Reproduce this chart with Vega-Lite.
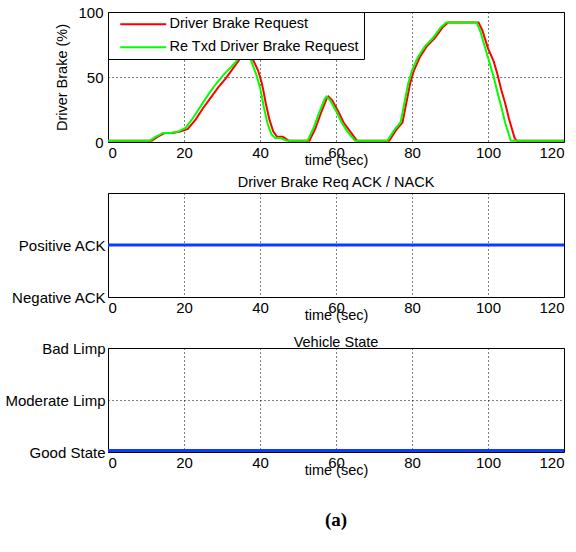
{
  "$schema": "https://vega.github.io/schema/vega-lite/v6.json",
  "padding": {"left": 4, "top": 4, "right": 8, "bottom": 5},
  "spacing": 51,
  "bounds": "flush",
  "background": "white",
  "title": {"text": "(a)", "orient": "bottom", "anchor": "middle", "font": "Liberation Serif", "fontSize": 19, "fontWeight": "bold", "offset": 34, "color": "black"},
  "config": {
    "font": "Liberation Sans",
    "view": {"stroke": "black", "strokeWidth": 1},
    "axis": {"domain": false, "ticks": false, "labelFontSize": 15, "labelColor": "black", "labelFont": "Liberation Sans", "titleFont": "Liberation Sans", "titleFontSize": 14.5, "titleFontWeight": "normal", "titleColor": "black", "gridColor": "black", "gridDash": [1, 3], "gridOpacity": 1, "gridWidth": 1, "labelPadding": 3},
    "title": {"fontSize": 14.5, "fontWeight": "normal", "font": "Liberation Sans", "color": "black", "frame": "group"}
  },
  "datasets": {
    "brake": [
      {"series": "Driver Brake Request", "t": 0, "v": 1},
      {"series": "Driver Brake Request", "t": 11.5, "v": 1},
      {"series": "Driver Brake Request", "t": 13, "v": 4},
      {"series": "Driver Brake Request", "t": 15, "v": 7},
      {"series": "Driver Brake Request", "t": 17, "v": 7},
      {"series": "Driver Brake Request", "t": 19, "v": 8},
      {"series": "Driver Brake Request", "t": 21, "v": 10},
      {"series": "Driver Brake Request", "t": 23, "v": 17},
      {"series": "Driver Brake Request", "t": 25, "v": 26},
      {"series": "Driver Brake Request", "t": 27, "v": 34},
      {"series": "Driver Brake Request", "t": 29, "v": 42},
      {"series": "Driver Brake Request", "t": 31, "v": 49},
      {"series": "Driver Brake Request", "t": 33, "v": 57},
      {"series": "Driver Brake Request", "t": 34.5, "v": 63},
      {"series": "Driver Brake Request", "t": 35.5, "v": 70},
      {"series": "Driver Brake Request", "t": 36.5, "v": 69},
      {"series": "Driver Brake Request", "t": 38.2, "v": 63},
      {"series": "Driver Brake Request", "t": 39.5, "v": 55},
      {"series": "Driver Brake Request", "t": 40.5, "v": 45},
      {"series": "Driver Brake Request", "t": 41, "v": 38},
      {"series": "Driver Brake Request", "t": 41.5, "v": 30},
      {"series": "Driver Brake Request", "t": 42.5, "v": 17},
      {"series": "Driver Brake Request", "t": 43.5, "v": 8},
      {"series": "Driver Brake Request", "t": 44.5, "v": 4},
      {"series": "Driver Brake Request", "t": 46, "v": 4},
      {"series": "Driver Brake Request", "t": 47.5, "v": 1},
      {"series": "Driver Brake Request", "t": 53, "v": 1},
      {"series": "Driver Brake Request", "t": 54.5, "v": 10},
      {"series": "Driver Brake Request", "t": 56, "v": 22},
      {"series": "Driver Brake Request", "t": 57.5, "v": 33},
      {"series": "Driver Brake Request", "t": 58, "v": 35},
      {"series": "Driver Brake Request", "t": 59, "v": 32},
      {"series": "Driver Brake Request", "t": 60.5, "v": 24},
      {"series": "Driver Brake Request", "t": 62, "v": 15},
      {"series": "Driver Brake Request", "t": 63.5, "v": 9},
      {"series": "Driver Brake Request", "t": 65.5, "v": 1},
      {"series": "Driver Brake Request", "t": 74, "v": 1},
      {"series": "Driver Brake Request", "t": 76, "v": 10},
      {"series": "Driver Brake Request", "t": 77.5, "v": 15},
      {"series": "Driver Brake Request", "t": 78.5, "v": 30},
      {"series": "Driver Brake Request", "t": 79.5, "v": 45},
      {"series": "Driver Brake Request", "t": 80.5, "v": 55},
      {"series": "Driver Brake Request", "t": 82, "v": 65},
      {"series": "Driver Brake Request", "t": 84, "v": 74},
      {"series": "Driver Brake Request", "t": 86, "v": 80},
      {"series": "Driver Brake Request", "t": 88, "v": 88},
      {"series": "Driver Brake Request", "t": 89.5, "v": 92},
      {"series": "Driver Brake Request", "t": 97.5, "v": 92},
      {"series": "Driver Brake Request", "t": 98.5, "v": 86},
      {"series": "Driver Brake Request", "t": 100, "v": 72},
      {"series": "Driver Brake Request", "t": 101.5, "v": 62},
      {"series": "Driver Brake Request", "t": 102.5, "v": 52},
      {"series": "Driver Brake Request", "t": 103.5, "v": 40},
      {"series": "Driver Brake Request", "t": 104.5, "v": 30},
      {"series": "Driver Brake Request", "t": 105.5, "v": 18},
      {"series": "Driver Brake Request", "t": 107, "v": 3},
      {"series": "Driver Brake Request", "t": 107.5, "v": 1},
      {"series": "Driver Brake Request", "t": 120, "v": 1},
      {"series": "Re Txd Driver Brake Request", "t": 0, "v": 1},
      {"series": "Re Txd Driver Brake Request", "t": 11, "v": 1},
      {"series": "Re Txd Driver Brake Request", "t": 12.5, "v": 4},
      {"series": "Re Txd Driver Brake Request", "t": 14.5, "v": 7},
      {"series": "Re Txd Driver Brake Request", "t": 16.5, "v": 7},
      {"series": "Re Txd Driver Brake Request", "t": 18.5, "v": 8},
      {"series": "Re Txd Driver Brake Request", "t": 20.5, "v": 11},
      {"series": "Re Txd Driver Brake Request", "t": 22.5, "v": 19},
      {"series": "Re Txd Driver Brake Request", "t": 24.5, "v": 28},
      {"series": "Re Txd Driver Brake Request", "t": 26.5, "v": 37},
      {"series": "Re Txd Driver Brake Request", "t": 28.5, "v": 45},
      {"series": "Re Txd Driver Brake Request", "t": 30.5, "v": 52},
      {"series": "Re Txd Driver Brake Request", "t": 32.5, "v": 58},
      {"series": "Re Txd Driver Brake Request", "t": 34, "v": 63},
      {"series": "Re Txd Driver Brake Request", "t": 35, "v": 70},
      {"series": "Re Txd Driver Brake Request", "t": 36, "v": 69},
      {"series": "Re Txd Driver Brake Request", "t": 37.6, "v": 63},
      {"series": "Re Txd Driver Brake Request", "t": 39, "v": 52},
      {"series": "Re Txd Driver Brake Request", "t": 40, "v": 42},
      {"series": "Re Txd Driver Brake Request", "t": 40.5, "v": 35},
      {"series": "Re Txd Driver Brake Request", "t": 41, "v": 27},
      {"series": "Re Txd Driver Brake Request", "t": 42, "v": 14},
      {"series": "Re Txd Driver Brake Request", "t": 43, "v": 6},
      {"series": "Re Txd Driver Brake Request", "t": 44, "v": 3},
      {"series": "Re Txd Driver Brake Request", "t": 45.5, "v": 3},
      {"series": "Re Txd Driver Brake Request", "t": 47, "v": 1},
      {"series": "Re Txd Driver Brake Request", "t": 52.5, "v": 1},
      {"series": "Re Txd Driver Brake Request", "t": 54, "v": 10},
      {"series": "Re Txd Driver Brake Request", "t": 55.5, "v": 22},
      {"series": "Re Txd Driver Brake Request", "t": 57, "v": 33},
      {"series": "Re Txd Driver Brake Request", "t": 57.5, "v": 35},
      {"series": "Re Txd Driver Brake Request", "t": 58.5, "v": 32},
      {"series": "Re Txd Driver Brake Request", "t": 60, "v": 24},
      {"series": "Re Txd Driver Brake Request", "t": 61.5, "v": 15},
      {"series": "Re Txd Driver Brake Request", "t": 63, "v": 8},
      {"series": "Re Txd Driver Brake Request", "t": 65, "v": 1},
      {"series": "Re Txd Driver Brake Request", "t": 73.5, "v": 1},
      {"series": "Re Txd Driver Brake Request", "t": 75.5, "v": 10},
      {"series": "Re Txd Driver Brake Request", "t": 77, "v": 15},
      {"series": "Re Txd Driver Brake Request", "t": 78, "v": 30},
      {"series": "Re Txd Driver Brake Request", "t": 79, "v": 45},
      {"series": "Re Txd Driver Brake Request", "t": 80, "v": 55},
      {"series": "Re Txd Driver Brake Request", "t": 81.5, "v": 65},
      {"series": "Re Txd Driver Brake Request", "t": 83.5, "v": 74},
      {"series": "Re Txd Driver Brake Request", "t": 85.5, "v": 80},
      {"series": "Re Txd Driver Brake Request", "t": 87.5, "v": 88},
      {"series": "Re Txd Driver Brake Request", "t": 89, "v": 92},
      {"series": "Re Txd Driver Brake Request", "t": 97, "v": 92},
      {"series": "Re Txd Driver Brake Request", "t": 98, "v": 85},
      {"series": "Re Txd Driver Brake Request", "t": 99.5, "v": 70},
      {"series": "Re Txd Driver Brake Request", "t": 100.5, "v": 60},
      {"series": "Re Txd Driver Brake Request", "t": 101.5, "v": 50},
      {"series": "Re Txd Driver Brake Request", "t": 102.5, "v": 38},
      {"series": "Re Txd Driver Brake Request", "t": 103.5, "v": 27},
      {"series": "Re Txd Driver Brake Request", "t": 104.5, "v": 15},
      {"series": "Re Txd Driver Brake Request", "t": 106, "v": 1},
      {"series": "Re Txd Driver Brake Request", "t": 120, "v": 1}
    ],
    "ack": [{"t": 0, "v": 1}, {"t": 120, "v": 1}],
    "state": [{"t": 0, "v": 0.03}, {"t": 120, "v": 0.03}]
  },
  "vconcat": [
    {
      "width": 456,
      "height": 130,
      "data": {"name": "brake"},
      "encoding": {
        "x": {"field": "t", "type": "quantitative", "scale": {"domain": [0, 120], "nice": false}, "axis": {"values": [0, 20, 40, 60, 80, 100, 120], "title": "time (sec)", "titlePadding": -7}},
        "y": {"field": "v", "type": "quantitative", "scale": {"domain": [0, 100], "nice": false}, "axis": {"values": [0, 50, 100], "title": "Driver Brake (%)", "titlePadding": 8, "labelPadding": 5}},
        "color": {"field": "series", "type": "nominal", "scale": {"domain": ["Driver Brake Request", "Re Txd Driver Brake Request"], "range": ["#ff0000", "#00ff00"]},
          "legend": {"title": null, "orient": "top-left", "offset": 0, "fillColor": "white", "strokeColor": "black", "padding": 5, "symbolType": "M0,0H8", "symbolSize": 132, "symbolStrokeWidth": 2, "labelFontSize": 14.5, "labelColor": "black", "labelOffset": 42, "labelLimit": 0, "rowPadding": 8, "labelFont": "Liberation Sans"}}
      },
      "layer": [
        {"transform": [{"filter": "datum.series === 'Driver Brake Request'"}], "mark": {"type": "line", "strokeWidth": 2}},
        {"transform": [{"filter": "datum.series === 'Re Txd Driver Brake Request'"}], "mark": {"type": "line", "strokeWidth": 2}}
      ]
    },
    {
      "width": 456,
      "height": 104,
      "title": {"text": "Driver Brake Req ACK / NACK", "offset": 3},
      "data": {"name": "ack"},
      "mark": {"type": "line", "color": "#0a3cff", "strokeWidth": 3},
      "encoding": {
        "x": {"field": "t", "type": "quantitative", "scale": {"domain": [0, 120], "nice": false}, "axis": {"values": [0, 20, 40, 60, 80, 100, 120], "title": "time (sec)", "titlePadding": -7}},
        "y": {"field": "v", "type": "quantitative", "scale": {"domain": [0, 2], "nice": false}, "axis": {"values": [0, 1], "title": null, "grid": false, "labelExpr": "datum.value == 0 ? 'Negative ACK' : 'Positive ACK'"}}
      }
    },
    {
      "width": 456,
      "height": 104,
      "title": {"text": "Vehicle State", "offset": -9},
      "data": {"name": "state"},
      "mark": {"type": "line", "color": "#0a3cff", "strokeWidth": 3},
      "encoding": {
        "x": {"field": "t", "type": "quantitative", "scale": {"domain": [0, 120], "nice": false}, "axis": {"values": [0, 20, 40, 60, 80, 100, 120], "title": "time (sec)", "titlePadding": -7}},
        "y": {"field": "v", "type": "quantitative", "scale": {"domain": [0, 2], "nice": false}, "axis": {"values": [0, 1, 2], "title": null, "labelExpr": "datum.value == 0 ? 'Good State' : datum.value == 1 ? 'Moderate Limp' : 'Bad Limp'"}}
      }
    }
  ]
}
